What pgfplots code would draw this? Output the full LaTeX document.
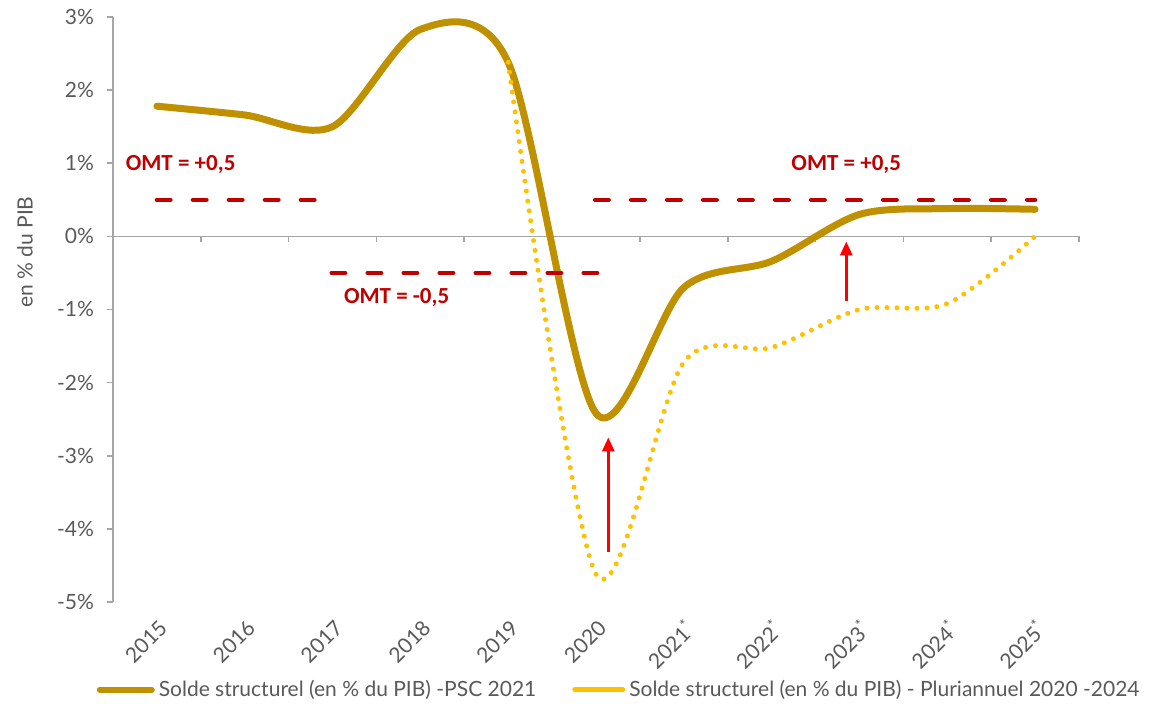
\documentclass[border=0pt]{standalone}
\usepackage{pgfplots}
\pgfplotsset{compat=1.18}
\usepackage{fontspec}
\setmainfont{Lato}
\newfontfamily\omtfont{Carlito}
\usetikzlibrary{arrows.meta}

\definecolor{psc}{RGB}{191,144,0}
\definecolor{plur}{RGB}{255,192,0}
\definecolor{omt}{RGB}{192,0,0}
\definecolor{txt}{RGB}{89,89,89}
\definecolor{axl}{RGB}{166,166,166}

\begin{document}
\begin{tikzpicture}
\begin{axis}[
  scale only axis, width=483pt, height=292.5pt,
  xmin=-0.5, xmax=10.5, ymin=-5, ymax=3,
  clip=false,
  axis y line*=left, axis x line*=bottom,
  x axis line style={draw=none},
  y axis line style={axl, line width=0.8pt, -},
  xtick={0,...,10},
  xticklabels={2015,2016,2017,2018,2019,2020,2021\textsuperscript{*},2022\textsuperscript{*},2023\textsuperscript{*},2024\textsuperscript{*},2025\textsuperscript{*}},
  xtick style={draw=none},
  ytick={-5,...,3},
  yticklabels={-5\%,-4\%,-3\%,-2\%,-1\%,0\%,1\%,2\%,3\%},
  ytick style={axl, line width=0.8pt},
  tick align=outside, major tick length=3pt,
  tick label style={font=\fontsize{10.5}{12}\selectfont, text=txt},
  yticklabel style={xshift=-3pt},
  xticklabel style={rotate=45, anchor=east, yshift=-8pt},
  legend style={at={(0.525,-0.15)}, anchor=center, draw=none, fill=none,
    legend columns=2, font=\fontsize{10.5}{12}\selectfont, text=txt,
    /tikz/every even column/.append style={column sep=16pt}, inner sep=0pt},
  legend cell align=left,
]
% axis line at zero with ticks between categories
\draw[axl, line width=0.8pt] (axis cs:-0.5,0) -- (axis cs:10.5,0);
\pgfplotsinvokeforeach{0.5,1.5,2.5,3.5,4.5,5.5,6.5,7.5,8.5,9.5,10.5}{
  \draw[axl, line width=0.8pt] (axis cs:#1,0) -- ++(0pt,-3pt);
}

\addplot[psc, line width=3.5pt, smooth, tension=0.5, line cap=round,
  legend image code/.code={\draw[psc, solid, line width=3pt, line cap=round] (0pt,0pt) -- (26pt,0pt);}]
  coordinates {(0,1.78)(1,1.66)(2,1.5)(3,2.83)(4,2.38)(5,-2.42)(6,-0.7)(7,-0.34)(8,0.3)(9,0.38)(10,0.37)};
\addlegendentry{Solde structurel (en \% du PIB) -PSC 2021}

\addplot[plur, line width=2.5pt, smooth, tension=0.5, line cap=round, dash pattern=on 0pt off 5pt,
  legend image code/.code={\draw[plur, solid, line width=2.5pt, line cap=round] (0pt,0pt) -- (24pt,0pt);}]
  coordinates {(4,2.38)(5,-4.62)(6,-1.72)(7,-1.52)(8,-1.0)(9,-0.92)(10,0.0)};
\addlegendentry{Solde structurel (en \% du PIB) - Pluriannuel 2020 -2024}

% OMT levels
\addplot[forget plot, omt, line width=2.25pt, line cap=round, dash pattern=on 6.75pt off 11.25pt]
  coordinates {(0,0.5)(1.88,0.5)};
\addplot[forget plot, omt, line width=2.25pt, line cap=round, dash pattern=on 6.75pt off 11.25pt]
  coordinates {(1.99,-0.5)(5.02,-0.5)};
\addplot[forget plot, omt, line width=2.25pt, line cap=round, dash pattern=on 6.75pt off 11.25pt]
  coordinates {(4.99,0.5)(10,0.5)};

% arrows
\addplot[forget plot, red, line width=1.5pt, -{Triangle[length=7pt,width=6pt]}]
  coordinates {(5.14,-4.31)(5.14,-2.75)};
\addplot[forget plot, red, line width=1.5pt, -{Triangle[length=7pt,width=6pt]}]
  coordinates {(7.85,-0.89)(7.85,-0.07)};

\node[omt, font=\omtfont\bfseries\fontsize{11.5}{13}\selectfont] at (axis cs:0.27,0.98) {OMT = +0,5};
\node[omt, font=\omtfont\bfseries\fontsize{11.5}{13}\selectfont] at (axis cs:2.73,-0.83) {OMT = -0,5};
\node[omt, font=\omtfont\bfseries\fontsize{11.5}{13}\selectfont] at (axis cs:7.85,0.98) {OMT = +0,5};

\path (rel axis cs:0,0.598) ++(-44pt,0pt) node[rotate=90, text=txt, font=\fontsize{10.5}{12}\selectfont] {en \% du PIB};

\coordinate (ll) at (rel axis cs:0,0);
\coordinate (ur) at (rel axis cs:1,1);
\end{axis}
\pgfresetboundingbox
\path (ll) ++(-56.5pt,-55pt) coordinate (a);
\path (ur) ++(42pt,8.5pt) coordinate (b);
\useasboundingbox (a) rectangle (b);
\end{tikzpicture}
\end{document}
